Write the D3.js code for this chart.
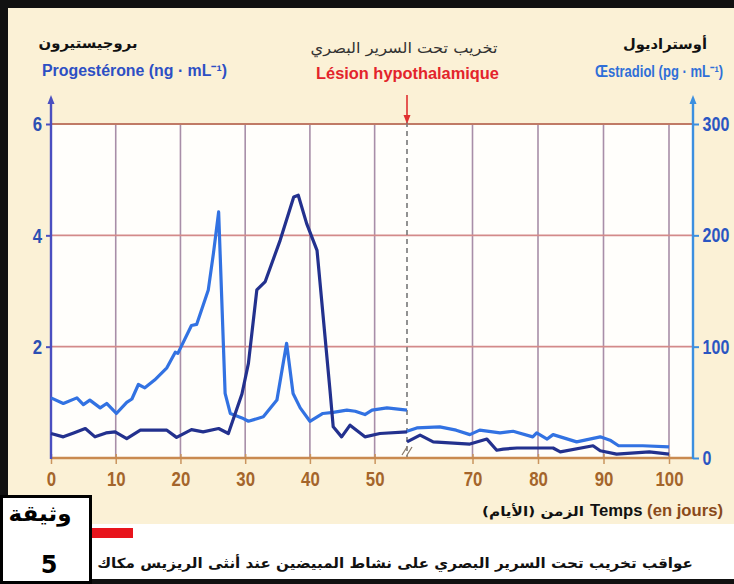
<!DOCTYPE html>
<html><head><meta charset="utf-8">
<script src="https://cdn.jsdelivr.net/npm/d3@7"></script>
<style>html,body{margin:0;padding:0;background:#fff}svg{display:block}</style>
</head><body>
<svg id="c" width="734" height="584"></svg>
<script>
// ---- data ----
const xTicks = [0, 10, 20, 30, 40, 50, 70, 80, 90, 100];
const xGrid = [10, 20, 30, 40, 50, 70, 80, 90, 100];
const leftTicks = [2, 4, 6];
const rightTicks = [0, 100, 200, 300];
const lesionDay = 55;      // day of the lesion (axis break 55 -> 60)
const resumeDay = 60;

// Progesterone (ng/mL) before lesion
const progDaysA = [0, 1.9, 3.5, 5.3, 6.8, 8.5, 9.9, 11.7, 13.8, 17.9, 19.4, 21.7, 23.5, 25.9, 27.4, 29.5, 30.5, 31.8, 33.1, 35.4, 37.5, 38.2, 39.5, 41.1, 43.1, 43.6, 44.9, 46.2, 48.5, 50.8, 55];
const progValsA = [0.44, 0.38, 0.45, 0.53, 0.38, 0.45, 0.47, 0.35, 0.50, 0.50, 0.37, 0.51, 0.47, 0.53, 0.44, 1.15, 1.70, 3.02, 3.17, 3.91, 4.69, 4.72, 4.21, 3.73, 1.22, 0.56, 0.38, 0.59, 0.38, 0.44, 0.47];
// Progesterone after lesion
const progDaysB = [60, 62, 64, 69.6, 72.2, 73.7, 74.7, 76.8, 82.3, 83.4, 88.4, 89.5, 92, 97, 100];
const progValsB = [0.29, 0.41, 0.29, 0.25, 0.34, 0.14, 0.16, 0.18, 0.18, 0.11, 0.22, 0.13, 0.07, 0.11, 0.07];

// Oestradiol (pg/mL) before lesion
const estrDaysA = [0, 1.9, 4, 5, 6, 7.6, 8.6, 10.1, 11.7, 12.5, 13.5, 14.5, 16, 17.9, 19.2, 19.6, 21.7, 22.5, 24.3, 25.1, 25.9, 26.9, 27.7, 29.5, 30.5, 32.8, 34.9, 36.4, 37.4, 38.5, 40, 42, 43.6, 45.7, 47, 48.5, 49.6, 51.9, 55];
const estrValsA = [54, 49, 54, 48, 52, 45, 49, 40, 50, 53, 66, 63, 70, 81, 95, 94, 119, 120, 151, 184, 221, 58, 40, 36, 33, 37, 52, 103, 58, 45, 33, 40, 41, 43, 42, 39, 43, 45, 43];
// Oestradiol after lesion
const estrDaysB = [60, 61.5, 65, 67.5, 69.6, 71.1, 74.2, 76.2, 79.2, 79.8, 81.4, 82.3, 85.9, 89.5, 91, 92.3, 96, 100];
const estrValsB = [24, 27, 28, 25, 21, 25, 22.5, 24, 19, 22.5, 17, 21, 14.5, 19, 16, 11, 11, 10];

// ---- drawing ----
const NARROW = '"Liberation Sans Narrow","Arial Narrow","Liberation Sans",Arial,sans-serif';
const ARAB = '"DejaVu Sans",sans-serif';
const svg = d3.select('#c');

const x = d3.scaleLinear().domain([0, lesionDay, resumeDay, 100]).range([51, 407, 407, 669]);
const yL = d3.scaleLinear().domain([0, 6]).range([458, 124]);
const yR = d3.scaleLinear().domain([0, 300]).range([458, 124]);

// backgrounds
svg.append('rect').attr('width', 734).attr('height', 584).attr('fill', '#fff');
svg.append('rect').attr('x', 0).attr('y', 0).attr('width', 734).attr('height', 524).attr('fill', '#fbf1d6');
svg.append('rect').attr('x', 51).attr('y', yL(6)).attr('width', 693 - 51).attr('height', yL(0) - yL(6)).attr('fill', '#fffefb');

// grid
svg.append('g').selectAll('line').data(xGrid).join('line')
  .attr('x1', d => x(d)).attr('x2', d => x(d)).attr('y1', yL(6)).attr('y2', yL(0))
  .attr('stroke', '#a88ea8').attr('stroke-width', 1.6);
svg.append('g').selectAll('line').data(leftTicks).join('line')
  .attr('x1', 51).attr('x2', 693).attr('y1', d => yL(d)).attr('y2', d => yL(d))
  .attr('stroke', d => d === 6 ? '#c07a66' : '#d38a8a').attr('stroke-width', 1.8);

// lesion dashed line
svg.append('line').attr('x1', x(lesionDay)).attr('x2', x(lesionDay)).attr('y1', yL(6) - 2).attr('y2', yL(0))
  .attr('stroke', '#777').attr('stroke-width', 1.6).attr('stroke-dasharray', '5,4');

// x axis
const xAxis = svg.append('g').attr('transform', `translate(0,${yL(0)})`)
  .call(d3.axisBottom(x).tickValues(xTicks).tickSize(6).tickFormat(d3.format('d')));
xAxis.select('.domain').remove();
xAxis.selectAll('.tick line').attr('stroke', '#c9945e').attr('stroke-width', 1.5).attr('y1', -4);
xAxis.selectAll('.tick text').attr('y', 28).attr('dy', 0).attr('transform', 'scale(0.8,1)')
  .attr('font-family', NARROW).attr('font-weight', 'bold').attr('font-size', 21).attr('fill', '#a4652b');
svg.append('line').attr('x1', 51).attr('x2', 693).attr('y1', yL(0)).attr('y2', yL(0))
  .attr('stroke', '#c98a50').attr('stroke-width', 2.6);
// axis break marks
svg.append('g').selectAll('line').data([-3, 2]).join('line')
  .attr('x1', d => x(lesionDay) + d - 2).attr('x2', d => x(lesionDay) + d + 3)
  .attr('y1', yL(0) - 3).attr('y2', yL(0) - 11)
  .attr('stroke', '#8a7a6a').attr('stroke-width', 1.3);

// left axis
const la = svg.append('g').attr('transform', 'translate(51,0)')
  .call(d3.axisLeft(yL).tickValues(leftTicks).tickSize(5).tickPadding(6).tickFormat(d3.format('d')));
la.select('.domain').remove();
la.selectAll('.tick line').attr('stroke', '#4a4fc0').attr('stroke-width', 2);
la.selectAll('.tick text').attr('transform', 'scale(0.8,1)')
  .attr('font-family', NARROW).attr('font-weight', 'bold').attr('font-size', 21).attr('fill', '#2c4fb3');
svg.append('line').attr('x1', 51).attr('x2', 51).attr('y1', 100).attr('y2', yL(0) + 1)
  .attr('stroke', '#4a4fc0').attr('stroke-width', 2.4);
svg.append('path').attr('d', 'M51,95 L47.5,104 L54.5,104 Z').attr('fill', '#4a4fc0');

// right axis
const ra = svg.append('g').attr('transform', 'translate(693,0)')
  .call(d3.axisRight(yR).tickValues(rightTicks).tickSize(6).tickPadding(6).tickFormat(d3.format('d')));
ra.select('.domain').remove();
ra.selectAll('.tick line').attr('stroke', '#3b8fe0').attr('stroke-width', 2);
ra.selectAll('.tick text').attr('transform', 'scale(0.8,1)')
  .attr('font-family', NARROW).attr('font-weight', 'bold').attr('font-size', 20).attr('fill', '#2a56c2');
svg.append('line').attr('x1', 693).attr('x2', 693).attr('y1', 100).attr('y2', yL(0) + 1)
  .attr('stroke', '#3b8fe0').attr('stroke-width', 2.4);
svg.append('path').attr('d', 'M693,95 L689.5,104 L696.5,104 Z').attr('fill', '#3b8fe0');

// red lesion arrow
svg.append('line').attr('x1', 407).attr('x2', 407).attr('y1', 95).attr('y2', 116)
  .attr('stroke', '#e03030').attr('stroke-width', 1.6);
svg.append('path').attr('d', 'M407,124 L403.5,115 L410.5,115 Z').attr('fill', '#e03030');

// series
const lineL = d3.line().x(d => x(d[0])).y(d => yL(d[1]));
const lineR = d3.line().x(d => x(d[0])).y(d => yR(d[1]));
const zip = (a, b) => a.map((d, i) => [d, b[i]]);
const estrColor = '#3272e2', progColor = '#23318e';
[zip(estrDaysA, estrValsA), zip(estrDaysB, estrValsB)].forEach(s =>
  svg.append('path').attr('d', lineR(s)).attr('fill', 'none').attr('stroke', estrColor)
    .attr('stroke-width', 3.2).attr('stroke-linejoin', 'round'));
[zip(progDaysA, progValsA), zip(progDaysB, progValsB)].forEach(s =>
  svg.append('path').attr('d', lineL(s)).attr('fill', 'none').attr('stroke', progColor)
    .attr('stroke-width', 3.2).attr('stroke-linejoin', 'round'));

// texts: centred at cx, horizontally scaled to a target width w
function txt(str, cx, y, opt) {
  const g = svg.append('g').attr('transform', `translate(${cx},${y})`);
  const t = g.append('text').attr('x', 0).attr('y', 0).attr('text-anchor', 'middle')
    .attr('font-family', opt.font).attr('font-size', opt.size).attr('font-weight', opt.weight || 'bold')
    .attr('fill', opt.fill || '#111');
  if (opt.rtl) t.attr('direction', 'rtl').style('unicode-bidi', 'embed');
  if (opt.parts) opt.parts.forEach(p => t.append('tspan').attr('fill', p[1]).text(p[0]));
  else t.text(str);
  if (opt.w) {
    const nat = t.node().getComputedTextLength();
    if (nat > 0) g.attr('transform', `translate(${cx},${y}) scale(${opt.w / nat},1)`);
  }
  return t;
}
txt('بروجيستيرون', 88, 48, {font: ARAB, size: 14, w: 99, rtl: true});
txt('Progestérone (ng · mL⁻¹)', 134.5, 76, {font: NARROW, size: 16, w: 185, fill: '#2d4fc4'});
txt('تخريب تحت السرير البصري', 404, 53, {font: ARAB, size: 15, weight: 'normal', w: 187, fill: '#333', rtl: true});
txt('Lésion hypothalamique', 407.5, 79, {font: NARROW, size: 16, w: 183, fill: '#e3242b'});
txt('أوستراديول', 665, 49, {font: ARAB, size: 14, w: 84, rtl: true});
txt('Œstradiol (pg · mL⁻¹)', 659, 77, {font: NARROW, size: 16, w: 128, fill: '#2f6fd8'});
txt('الزمن (الأيام)', 533, 516, {font: ARAB, size: 13, w: 102, rtl: true});
txt('', 656.5, 516, {font: NARROW, size: 17, w: 133, parts: [['Temps ', '#111'], ['(en jours)', '#8a4a1a']]});

// frame
svg.append('rect').attr('x', 0).attr('y', 0).attr('width', 734).attr('height', 8).attr('fill', '#111');
svg.append('rect').attr('x', 0).attr('y', 0).attr('width', 8).attr('height', 496).attr('fill', '#111');
svg.append('rect').attr('x', 88).attr('y', 579).attr('width', 646).attr('height', 5).attr('fill', '#111');

// red bar + caption
svg.append('rect').attr('x', 92).attr('y', 528).attr('width', 41).attr('height', 10).attr('fill', '#e8141c');
txt('عواقب تخريب تحت السرير البصري على نشاط المبيضين عند أنثى الريزيس مكاك', 395, 568, {font: ARAB, size: 14, w: 596, rtl: true});

// document box
svg.append('rect').attr('x', 1.5).attr('y', 496.5).attr('width', 89).attr('height', 86)
  .attr('fill', '#fff').attr('stroke', '#000').attr('stroke-width', 3);
txt('وثيقة', 40, 521, {font: ARAB, size: 22, w: 63, rtl: true, fill: '#000'});
txt('5', 49, 573, {font: ARAB, size: 24, fill: '#000'});
</script></body></html>
